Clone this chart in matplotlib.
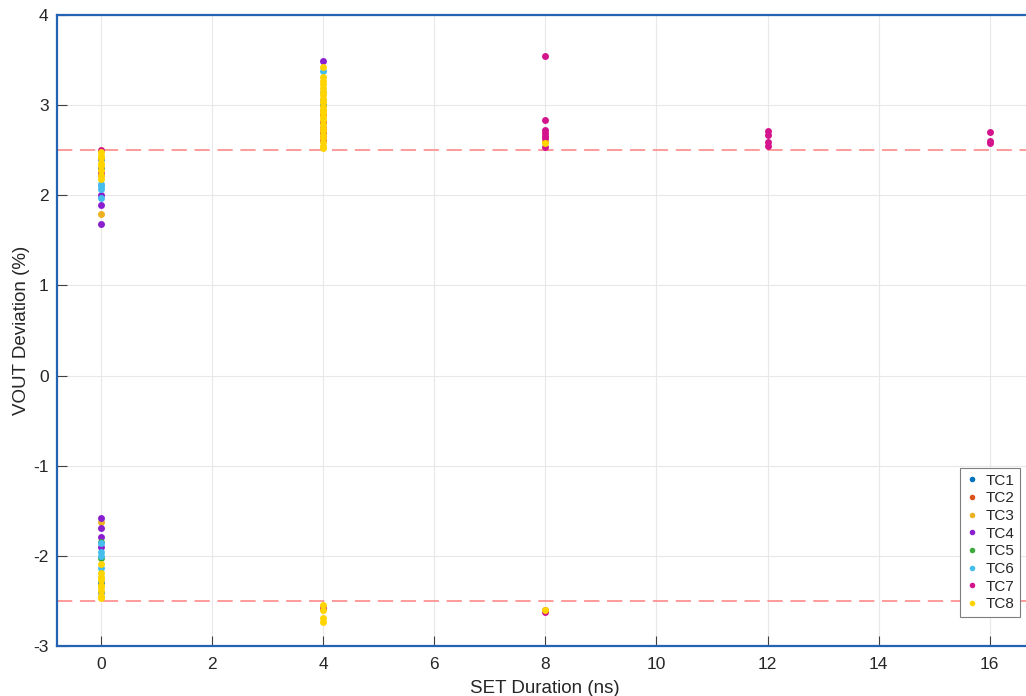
import matplotlib
matplotlib.use("Agg")
import matplotlib.pyplot as plt

plt.rcParams['font.family'] = ['Liberation Sans', 'DejaVu Sans']
plt.rcParams['axes.unicode_minus'] = False

# SET duration (ns) and VOUT deviation (%) per test case
tc1_x = [0, 0, 0, 0, 4, 4]
tc1_y = [2.30, 2.40, -2.30, -2.40, 2.80, 3.00]

tc2_x = [0, 4, 4, 8]
tc2_y = [2.23, 2.70, 2.90, -2.60]

tc3_x = [0, 0, 4, 8]
tc3_y = [1.79, -1.62, 2.95, 2.60]

tc4_x = [0, 0, 0, 0, 0, 0, 0, 4]
tc4_y = [1.68, 1.89, 2.00, -1.58, -1.69, -1.79, -1.90, 3.49]

tc5_x = [0, 0]
tc5_y = [-1.85, -2.02]

tc6_x = [0, 0, 0, 0, 0, 0, 0, 0, 4, 4, 4]
tc6_y = [2.07, 2.10, 2.13, 1.97, -1.86, -1.96, -2.00, -2.13, 3.38, 3.15, 3.06]

tc7_x = [0, 0, 4, 4, 4, 4, 4, 4, 8, 8, 8, 8, 8, 8, 8, 8,
         12, 12, 12, 12, 16, 16, 16]
tc7_y = [2.50, 2.25, 2.61, 2.66, 2.70, 2.75, 2.81, -2.58,
         3.55, 2.84, 2.72, 2.69, 2.66, 2.63, 2.54, -2.62,
         2.71, 2.67, 2.59, 2.55, 2.70, 2.60, 2.58]

tc8_x = [0] * 17 + [4] * 22 + [4] * 4 + [8, 8]
tc8_y = [2.48, 2.44, 2.41, 2.36, 2.33, 2.28, 2.22, 2.18,
         -2.09, -2.19, -2.23, -2.27, -2.32, -2.35, -2.39, -2.44, -2.47,
         3.42, 3.31, 3.27, 3.24, 3.19, 3.15, 3.11, 3.07, 3.03, 2.99,
         2.95, 2.91, 2.87, 2.83, 2.79, 2.75, 2.71, 2.67, 2.63, 2.59,
         2.55, 2.52,
         -2.55, -2.60, -2.69, -2.73,
         2.58, -2.60]

series = [
    ("TC1", tc1_x, tc1_y, "#0072BD"),
    ("TC2", tc2_x, tc2_y, "#D95319"),
    ("TC3", tc3_x, tc3_y, "#EDB120"),
    ("TC4", tc4_x, tc4_y, "#8A1FD0"),
    ("TC5", tc5_x, tc5_y, "#3DAA3D"),
    ("TC6", tc6_x, tc6_y, "#45BEEE"),
    ("TC7", tc7_x, tc7_y, "#D4148C"),
    ("TC8", tc8_x, tc8_y, "#FFD400"),
]

limit_levels = [2.5, -2.5]

W, H = 1026, 696
fig = plt.figure(figsize=(W / 100, H / 100), dpi=100)
ax = fig.add_axes([57 / W, 50 / H, (1032 - 57) / W, 631 / H])

for name, xs, ys, col in series:
    ax.plot(xs, ys, linestyle="none", marker="o", markersize=5,
            markeredgewidth=0, color=col, label=name, zorder=3)

for lvl in limit_levels:
    ax.axhline(lvl, color="#FF8080", linewidth=1.1, dashes=(10, 5), zorder=2)

ax.set_xlim(-0.79, 16.76)
ax.set_ylim(-3, 4)
ax.set_xticks(range(0, 17, 2))
ax.set_yticks(range(-3, 5))
ax.grid(True, color="#E8E8E8", linewidth=0.8, zorder=0)
ax.set_axisbelow(True)

for side in ("left", "bottom", "top"):
    ax.spines[side].set_color("#2462B4")
    ax.spines[side].set_linewidth(1.6)
ax.spines["right"].set_visible(False)

ax.tick_params(direction="in", length=7, width=0.8, color="#404040",
               labelcolor="#262626", labelsize=12.5, pad=6)
ax.tick_params(axis="x", pad=8)

ax.set_xlabel("SET Duration (ns)", fontsize=13.5, color="#262626", labelpad=6)
ax.set_ylabel("VOUT Deviation (%)", fontsize=13.5, color="#262626", labelpad=2)

leg = ax.legend(loc="lower right", bbox_to_anchor=(1020 / W, (H - 617) / H),
                bbox_transform=fig.transFigure, borderaxespad=0,
                fontsize=11, frameon=True, fancybox=False, framealpha=1,
                edgecolor="#7F7F7F", markerscale=0.8, handlelength=0.8,
                handletextpad=0.5, labelspacing=0.24, borderpad=0.38)
leg.get_frame().set_linewidth(0.8)
for t in leg.get_texts():
    t.set_color("#262626")

fig.savefig("out.png", dpi=100)
